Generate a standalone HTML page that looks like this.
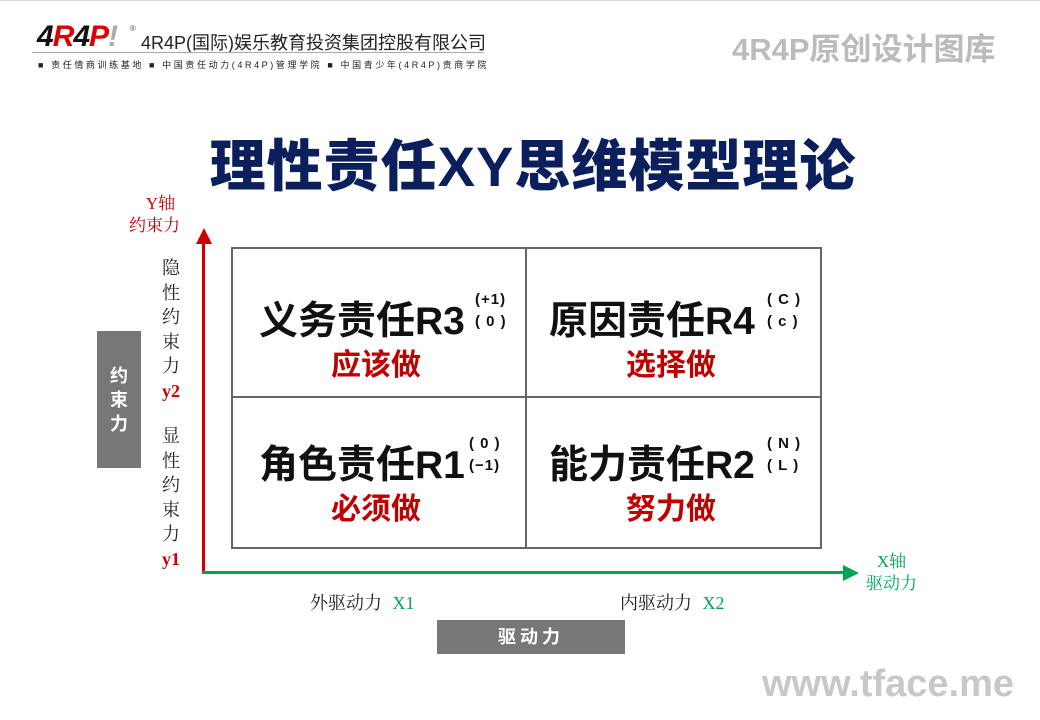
<!DOCTYPE html>
<html><head><meta charset="utf-8"><style>
body{margin:0;width:1040px;height:720px;background:#fff;position:relative;overflow:hidden;font-family:"Liberation Sans","Noto Sans CJK SC",sans-serif}
.a{position:absolute;white-space:nowrap}
.cell{position:absolute;font-weight:bold;font-size:39px;color:#111}
.red{color:#c00000;font-weight:bold;font-size:30px}
.sm{font-size:15px;line-height:22px;font-weight:bold;color:#111;letter-spacing:1px}
.serif{font-family:"Liberation Serif","Noto Serif CJK SC",serif}
</style></head><body>
<div class="a" style="left:0;top:0;width:1040px;height:1px;background:#ddd"></div>
<div class="a" style="left:37px;top:20px;font-size:30px;font-weight:900;font-style:italic;color:#111;letter-spacing:-1px">4<span style="color:#d00">R</span>4<span style="color:#d00">P</span><span style="color:#aaa">!</span></div>
<div class="a" style="left:130px;top:24px;font-size:8px;color:#555">®</div>
<div class="a" style="left:141px;top:29px;font-size:18px;color:#222">4R4P(国际)娱乐教育投资集团控股有限公司</div>
<div class="a" style="left:32px;top:52px;width:452px;height:1px;background:#aaa"></div>
<div class="a" style="left:38px;top:58px;font-size:9px;color:#222;letter-spacing:2.6px">■ 责任情商训练基地 ■ 中国责任动力(4R4P)管理学院 ■ 中国青少年(4R4P)责商学院</div>
<div class="a" style="left:732px;top:24px;font-size:31px;font-weight:bold;color:#bbb">4R4P原创设计图库</div>
<div class="a" style="left:0;top:122px;width:1066px;text-align:center;font-size:56px;font-weight:900;color:#0b1f5c;letter-spacing:1px">理性责任XY思维模型理论</div>

<div class="a serif" style="left:141px;top:193px;font-size:17px;color:#c00;line-height:22px;text-align:center">Y轴<br><span style="margin-left:-12px">约束力</span></div>
<div class="a" style="left:202px;top:240px;width:3px;height:334px;background:#c00"></div>
<svg class="a" style="left:195px;top:228px" width="18" height="16"><polygon points="9,0 1,16 17,16" fill="#c00"/></svg>
<div class="a" style="left:202px;top:571px;width:645px;height:3px;background:#00a550"></div>
<svg class="a" style="left:843px;top:564px" width="16" height="18"><polygon points="16,9 0,1 0,17" fill="#00a550"/></svg>
<div class="a serif" style="left:866px;top:551px;font-size:17px;color:#00a550;line-height:22px;text-align:center">X轴<br>驱动力</div>

<div class="a serif" style="left:162px;top:256px;font-size:18px;line-height:24.5px;text-align:center;color:#222">隐<br>性<br>约<br>束<br>力<br><b style="color:#c00">y2</b></div>
<div class="a serif" style="left:162px;top:424px;font-size:18px;line-height:24.5px;text-align:center;color:#222">显<br>性<br>约<br>束<br>力<br><b style="color:#c00">y1</b></div>

<div class="a" style="left:97px;top:331px;width:44px;height:137px;background:#777;color:#fff;font-weight:bold;font-size:18px;line-height:24px;text-align:center;padding-top:33px;box-sizing:border-box">约<br>束<br>力</div>
<div class="a" style="left:437px;top:620px;width:188px;height:34px;background:#777;color:#fff;font-weight:bold;font-size:18px;line-height:34px;text-align:center;letter-spacing:4px">驱动力</div>

<div class="a" style="left:231px;top:247px;width:587px;height:298px;border:2px solid #666"></div>
<div class="a" style="left:525px;top:247px;width:2px;height:302px;background:#666"></div>
<div class="a" style="left:231px;top:396px;width:591px;height:2px;background:#666"></div>

<div class="cell a" style="left:259px;top:290px">义务责任R3</div>
<div class="a sm" style="left:475px;top:289px">(+1)<br>( 0 )</div>
<div class="a red" style="left:331px;top:340px">应该做</div>
<div class="cell a" style="left:549px;top:290px">原因责任R4</div>
<div class="a sm" style="left:767px;top:289px">( C )<br>( c )</div>
<div class="a red" style="left:626px;top:340px">选择做</div>
<div class="cell a" style="left:259px;top:434px">角色责任R1</div>
<div class="a sm" style="left:469px;top:433px">( 0 )<br>(−1)</div>
<div class="a red" style="left:331px;top:484px">必须做</div>
<div class="cell a" style="left:549px;top:434px">能力责任R2</div>
<div class="a sm" style="left:767px;top:433px">( N )<br>( L )</div>
<div class="a red" style="left:626px;top:484px">努力做</div>

<div class="a serif" style="left:310px;top:589px;font-size:18px;color:#222">外驱动力 <span style="color:#00a550;margin-left:6px">X1</span></div>
<div class="a serif" style="left:620px;top:589px;font-size:18px;color:#222">内驱动力 <span style="color:#00a550;margin-left:6px">X2</span></div>
<div class="a" style="left:762px;top:663px;font-size:38px;font-weight:bold;color:#c8c8c8">www.tface.me</div>
</body></html>
